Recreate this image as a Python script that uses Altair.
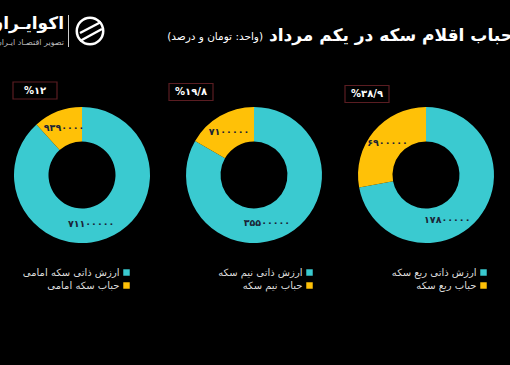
import math
import altair as alt
import pandas as pd

# ---------------- data ----------------
coins = ["سکه امامی", "نیم سکه", "ربع سکه"]
intrinsic_labels = ["ارزش ذاتی سکه امامی", "ارزش ذاتی نیم سکه", "ارزش ذاتی ربع سکه"]
bubble_labels = ["حباب سکه امامی", "حباب نیم سکه", "حباب ربع سکه"]
intrinsic_values = [71100000, 35500000, 17800000]
bubble_values = [9390000, 7100000, 6900000]
bubble_pct = ["%۱۲", "%۱۹/۸", "%۳۸/۹"]
title_main = "حباب اقلام سکه در یکم مرداد"
title_unit = "(واحد: تومان و درصد)"
brand_name = "اکوایـران"
brand_tag = "تصویر اقتصـاد ایـران"

FA = str.maketrans("0123456789", "۰۱۲۳۴۵۶۷۸۹")
FONT = "DejaVu Sans"
TEAL = "#3ACAD0"
GOLD = "#FFC107"
CX = [82, 254, 426]
CY = 175

rows = []
for i in range(len(coins)):
    rows.append(dict(panel=i, part=0, kind="intrinsic", value=intrinsic_values[i],
                     name=intrinsic_labels[i], pct=bubble_pct[i]))
    rows.append(dict(panel=i, part=1, kind="bubble", value=bubble_values[i],
                     name=bubble_labels[i], pct=bubble_pct[i]))
df = pd.DataFrame(rows)
df["label"] = df["value"].map(lambda v: str(v).translate(FA))

xs = alt.Scale(domain=[0, 510], range=[0, 510], nice=False, zero=False)
ys = alt.Scale(domain=[0, 365], range=[0, 365], nice=False, zero=False)
color = alt.Color("kind:N", scale=alt.Scale(domain=["intrinsic", "bubble"], range=[TEAL, GOLD]), legend=None)

# donuts: one layer per coin, theta stacked by the library
donuts = []
for i in range(len(coins)):
    donuts.append(
        alt.Chart(df).transform_filter(f"datum.panel == {i}")
        .mark_arc(innerRadius=33.5, outerRadius=68)
        .encode(
            x=alt.value(CX[i]), y=alt.value(CY),
            theta=alt.Theta("value:Q", stack=True),
            order=alt.Order("part:Q"),
            color=color,
        )
    )
donut_layer = alt.layer(*donuts).resolve_scale(theta="independent")

# slice labels: bubble at mid-angle, intrinsic biased toward the bottom of the ring
lab = (
    alt.Chart(df)
    .transform_joinaggregate(total="sum(value)", groupby=["panel"])
    .transform_window(cum="sum(value)", groupby=["panel"],
                      sort=[alt.SortField("part")], frame=[None, 0])
    .transform_calculate(
        cx="82 + datum.panel * 172",
        mid="PI * (2 * datum.cum - datum.value) / datum.total",
    )
    .transform_calculate(
        ang="datum.part == 0 ? (datum.mid + PI) / 2 : datum.mid",
    )
    .transform_calculate(
        lx="datum.cx + 50 * sin(datum.ang)",
        ly="175 - 50 * cos(datum.ang)",
    )
)
slice_text = lab.mark_text(font=FONT, fontSize=9.5, fontWeight="bold", color="#1b2436").encode(
    x=alt.X("lx:Q", scale=xs, axis=None),
    y=alt.Y("ly:Q", scale=ys, axis=None),
    text="label:N",
)

# percentage boxes
boxes_base = (
    alt.Chart(df)
    .transform_filter("datum.part == 1")
    .transform_calculate(
        bx="[35, 191, 367][datum.panel]",
        by="[90.5, 92, 94][datum.panel]",
    )
    .transform_calculate(bx0="datum.bx - 22", bx1="datum.bx + 22",
                         by0="datum.by - 8.5", by1="datum.by + 8.5")
)
box_rect = boxes_base.mark_rect(fill="black", stroke="#5a1d22", strokeWidth=1.2).encode(
    x=alt.X("bx0:Q", scale=xs, axis=None), x2="bx1:Q",
    y=alt.Y("by0:Q", scale=ys, axis=None), y2="by1:Q",
)
box_text = boxes_base.mark_text(font=FONT, fontSize=10, fontWeight="bold", color="white").encode(
    x=alt.X("bx:Q", scale=xs, axis=None),
    y=alt.Y("by:Q", scale=ys, axis=None),
    text="pct:N",
)

# RTL legends
leg_base = alt.Chart(df).transform_calculate(
    lgx="[126.5, 309.5, 483.5][datum.panel]",
    lgy="272.5 + 13 * datum.part",
).transform_calculate(ltx="datum.lgx - 7")
leg_sq = leg_base.mark_square(size=42, opacity=1).encode(
    x=alt.X("lgx:Q", scale=xs, axis=None),
    y=alt.Y("lgy:Q", scale=ys, axis=None),
    color=color,
)
leg_txt = leg_base.mark_text(font=FONT, fontSize=10, color="#dddddd", align="right").encode(
    x=alt.X("ltx:Q", scale=xs, axis=None),
    y=alt.Y("lgy:Q", scale=ys, axis=None),
    text="name:N",
)

# title
title_df = pd.DataFrame({"t": [title_main], "u": ["\u202b" + title_unit + "\u202c"]})
t_main = alt.Chart(title_df).mark_text(font=FONT, fontSize=17, fontWeight="bold", color="white",
                                      align="right").encode(
    x=alt.value(513), y=alt.value(36), text="t:N")
t_unit = alt.Chart(title_df).mark_text(font=FONT, fontSize=10.5, color="white", align="right").encode(
    x=alt.value(263), y=alt.value(37), text="u:N")

# brand
brand_df = pd.DataFrame({"n": [brand_name], "g": [brand_tag]})
b_name = alt.Chart(brand_df).mark_text(font=FONT, fontSize=17, fontWeight="bold", color="white",
                                      align="right").encode(
    x=alt.value(64), y=alt.value(24), text="n:N")
b_tag = alt.Chart(brand_df).mark_text(font=FONT, fontSize=8, color="#bbbbbb", align="right").encode(
    x=alt.value(64), y=alt.value(43), text="g:N")
b_sep = alt.Chart(brand_df).mark_rule(color="#cccccc", strokeWidth=1).encode(
    x=alt.value(68.5), y=alt.value(15), y2=alt.value(47))
b_ring = alt.Chart(brand_df).mark_point(shape="circle", size=700, filled=False, color="white",
                                        strokeWidth=2.5, opacity=1).encode(
    x=alt.value(90), y=alt.value(31))
b_s1 = alt.Chart(brand_df).mark_rule(color="white", strokeWidth=2.5).encode(
    x=alt.value(80), y=alt.value(33), x2=alt.value(101), y2=alt.value(22))
b_s2 = alt.Chart(brand_df).mark_rule(color="white", strokeWidth=2.5).encode(
    x=alt.value(80), y=alt.value(41), x2=alt.value(102), y2=alt.value(29))

chart = alt.layer(
    donut_layer, slice_text, box_rect, box_text, leg_sq, leg_txt,
    t_main, t_unit, b_name, b_tag, b_sep, b_ring, b_s1, b_s2,
).properties(
    width=510, height=365, background="black", padding=0,
    autosize=alt.AutoSizeParams(type="none"),
).configure_view(stroke=None)

chart.save("out.html", embed_options={"renderer": "svg", "actions": False})
